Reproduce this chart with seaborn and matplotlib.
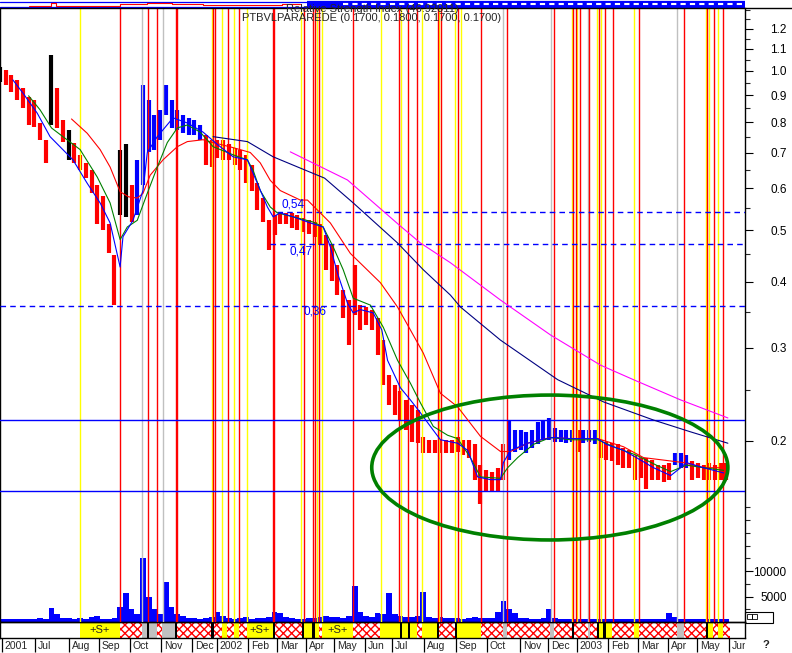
"""Recreate the PTBVLPARAREDE bar chart: price bars, moving averages, volume and signal strip."""

import matplotlib

matplotlib.use("Agg")
import matplotlib.pyplot as plt
import numpy as np
import pandas as pd
import seaborn as sns
from matplotlib.lines import Line2D
from matplotlib.patches import Ellipse, Rectangle
from matplotlib.ticker import NullFormatter

W, H = 792, 653
PX_PER_DAY = 1.43
X_END = 745 / PX_PER_DAY

# price bars, one every 4 trading days
bar_day = np.arange(0, 512, 4)
bar_high = [
    1.017, 1.004, 0.982, 0.961, 0.928, 0.893, 0.880, 0.797, 0.741, 1.071,
    0.928, 0.807, 0.773, 0.732, 0.694, 0.670, 0.649, 0.608, 0.581, 0.513,
    0.448, 0.710, 0.726, 0.608, 0.679, 0.940, 0.880, 0.825, 0.844, 0.940,
    0.880, 0.844, 0.825, 0.815, 0.807, 0.790, 0.757, 0.741, 0.741, 0.741,
    0.726, 0.716, 0.710, 0.694, 0.664, 0.613, 0.576, 0.522, 0.534, 0.541,
    0.539, 0.539, 0.534, 0.527, 0.522, 0.518, 0.513, 0.490, 0.469, 0.429,
    0.386, 0.369, 0.429, 0.361, 0.358, 0.354, 0.341, 0.310, 0.266, 0.255,
    0.249, 0.239, 0.234, 0.229, 0.203, 0.201, 0.201, 0.201, 0.201, 0.201,
    0.203, 0.201, 0.201, 0.197, 0.180, 0.176, 0.175, 0.178, 0.197, 0.219,
    0.210, 0.210, 0.208, 0.210, 0.217, 0.219, 0.221, 0.212, 0.210, 0.210,
    0.210, 0.210, 0.210, 0.210, 0.210, 0.201, 0.199, 0.198, 0.197, 0.194,
    0.192, 0.188, 0.186, 0.186, 0.184, 0.180, 0.180, 0.182, 0.190, 0.190,
    0.188, 0.183, 0.182, 0.180, 0.182, 0.180, 0.182, 0.182,
]
bar_low = [
    0.953, 0.940, 0.912, 0.880, 0.851, 0.790, 0.783, 0.741, 0.670, 0.790,
    0.780, 0.735, 0.679, 0.670, 0.649, 0.627, 0.587, 0.513, 0.500, 0.452,
    0.361, 0.534, 0.530, 0.518, 0.534, 0.608, 0.701, 0.710, 0.741, 0.825,
    0.780, 0.773, 0.764, 0.757, 0.757, 0.741, 0.664, 0.658, 0.685, 0.679,
    0.679, 0.664, 0.649, 0.613, 0.594, 0.546, 0.518, 0.459, 0.490, 0.513,
    0.513, 0.505, 0.500, 0.496, 0.492, 0.486, 0.469, 0.421, 0.401, 0.377,
    0.341, 0.303, 0.346, 0.324, 0.331, 0.324, 0.291, 0.255, 0.234, 0.224,
    0.219, 0.210, 0.199, 0.198, 0.190, 0.190, 0.190, 0.190, 0.190, 0.190,
    0.191, 0.188, 0.186, 0.169, 0.152, 0.160, 0.160, 0.161, 0.169, 0.184,
    0.191, 0.192, 0.190, 0.194, 0.197, 0.201, 0.201, 0.199, 0.199, 0.198,
    0.199, 0.191, 0.198, 0.199, 0.197, 0.186, 0.184, 0.183, 0.180, 0.178,
    0.178, 0.169, 0.170, 0.162, 0.169, 0.169, 0.167, 0.169, 0.180, 0.178,
    0.178, 0.169, 0.170, 0.169, 0.169, 0.169, 0.169, 0.169,
]
# runs of bar colours: k = neutral, r = falling, b = rising
bar_color_runs = [
    ("k", 1), ("r", 8), ("k", 1), ("r", 2), ("k", 1), ("r", 8), ("k", 2), ("r", 1),
    ("b", 12), ("r", 53), ("b", 12), ("r", 1), ("b", 3), ("r", 13), ("b", 3), ("r", 7),
]
volume = [
    600, 500, 600, 500, 500, 600, 500, 700, 600, 2800,
    1500, 800, 700, 600, 700, 600, 900, 1200, 600, 500,
    700, 3000, 5600, 2500, 1500, 12600, 5000, 2500, 1500, 7800,
    3000, 1500, 1200, 800, 700, 600, 800, 1000, 2000, 1200,
    700, 600, 800, 1000, 600, 700, 800, 1000, 2000, 1800,
    900, 700, 600, 600, 800, 700, 900, 1200, 1000, 900,
    800, 1200, 7000, 2000, 1200, 1000, 1800, 1500, 5600, 1500,
    1200, 1000, 900, 1200, 5800, 1000, 800, 1000, 700, 700,
    800, 600, 700, 1000, 800, 700, 800, 2000, 4200, 2500,
    1800, 800, 700, 600, 600, 700, 2600, 700, 600, 500,
    550, 500, 600, 500, 500, 550, 500, 500, 600, 500,
    500, 550, 500, 500, 600, 600, 600, 1800, 900, 500,
    500, 600, 500, 500, 550, 500, 500, 600,
]

# moving averages
ma_blue_day = [9, 16, 26, 35, 51, 61, 70, 77, 84, 86, 93, 100, 103, 110, 121, 131, 142, 152,
               163, 173, 180, 187, 191, 196, 205, 217, 226, 231, 236, 243, 247, 252, 261, 267,
               271, 280, 287, 294, 301, 308, 320, 327, 334, 343, 350, 352, 357, 369, 378, 387,
               399, 418, 424, 436, 445, 457, 469, 476, 480, 492, 506]
ma_blue_val = [0.961, 0.908, 0.832, 0.751, 0.679, 0.613, 0.563, 0.516, 0.426, 0.486, 0.522,
               0.594, 0.701, 0.751, 0.815, 0.797, 0.766, 0.726, 0.688, 0.679, 0.613, 0.553,
               0.530, 0.539, 0.530, 0.516, 0.507, 0.465, 0.415, 0.364, 0.349, 0.354, 0.349,
               0.324, 0.284, 0.252, 0.239, 0.226, 0.213, 0.201, 0.198, 0.192, 0.171, 0.169,
               0.169, 0.182, 0.192, 0.198, 0.201, 0.203, 0.202, 0.202, 0.197, 0.192, 0.186,
               0.178, 0.172, 0.178, 0.182, 0.178, 0.174]
ma_green_day = [20, 28, 36, 44, 56, 68, 77, 84, 89, 96, 103, 110, 117, 124, 131, 140, 149, 163,
                173, 177, 182, 189, 194, 205, 219, 226, 233, 240, 247, 259, 268, 278, 287, 294,
                303, 313, 320, 329, 336, 350, 355, 362, 373, 385, 399, 418, 431, 445, 459, 469,
                480, 492, 506]
ma_green_val = [0.897, 0.844, 0.780, 0.751, 0.710, 0.630, 0.563, 0.480, 0.507, 0.522, 0.587,
                0.658, 0.732, 0.780, 0.790, 0.766, 0.719, 0.694, 0.679, 0.649, 0.594, 0.553,
                0.539, 0.530, 0.518, 0.507, 0.465, 0.421, 0.372, 0.361, 0.328, 0.284, 0.257,
                0.236, 0.213, 0.205, 0.202, 0.186, 0.171, 0.170, 0.178, 0.186, 0.197, 0.203,
                0.201, 0.201, 0.194, 0.188, 0.180, 0.175, 0.180, 0.178, 0.176]
ma_red_day = [50, 61, 70, 77, 84, 90, 96, 100, 105, 114, 124, 131, 142, 149, 163, 175, 182, 189,
              196, 210, 215, 231, 245, 266, 278, 287, 296, 308, 320, 336, 350, 357, 369, 385,
              399, 418, 436, 450, 464, 478, 492, 506]
ma_red_val = [0.811, 0.762, 0.710, 0.658, 0.591, 0.578, 0.575, 0.587, 0.635, 0.679, 0.719,
              0.735, 0.741, 0.732, 0.716, 0.701, 0.670, 0.621, 0.594, 0.570, 0.570, 0.516,
              0.452, 0.398, 0.358, 0.324, 0.293, 0.246, 0.232, 0.204, 0.191, 0.191, 0.198,
              0.203, 0.202, 0.202, 0.195, 0.186, 0.184, 0.182, 0.178, 0.178]
ma_navy_day = [149, 173, 191, 210, 227, 247, 278, 296, 315, 322, 350, 390, 422, 457, 483, 509]
ma_navy_val = [0.751, 0.735, 0.688, 0.655, 0.627, 0.563, 0.473, 0.421, 0.377, 0.358, 0.310,
               0.261, 0.237, 0.219, 0.208, 0.198]
ma_mag_day = [203, 243, 280, 294, 315, 350, 385, 420, 443, 476, 509]
ma_mag_val = [0.703, 0.622, 0.509, 0.473, 0.434, 0.369, 0.317, 0.278, 0.261, 0.239, 0.221]

# signal lines (trading-day positions)
yellow_days = [55.9, 148.3, 155.2, 163.6, 172.7, 210.5, 221.7, 225.2, 266.4, 280.4, 295.1, 307.0,
               318.2, 322.4, 400.0, 403.5, 417.5, 420.3, 443.4, 493.7, 495.8, 502.1]
red_days = [83.9, 103.5, 109.8, 123.1, 123.8, 149.0, 150.3, 159.4, 167.1, 190.9, 191.6, 212.6,
            218.9, 220.3, 223.1, 246.9, 279.0, 285.3, 291.6, 306.3, 308.4, 320.3, 336.4, 354.5,
            387.4, 400.7, 402.8, 405.6, 411.9, 418.9, 423.1, 428.7, 446.9, 478.3, 494.4, 499.3,
            505.6]
gray_days = [99.3, 114.0, 351.7, 385.3, 411.2, 473.4]

level_dashed = [0.54, 0.47, 0.36]
level_dashed_start = [193.7, 188.8, 0.0]
level_labels = ["0,54", "0,47", "0,36"]
level_label_day = [197.2, 202.1, 211.9]
level_label_offset = [6, -5, -4]
level_solid = [0.219, 0.161]

# signal strip below the volume
strip_edges = [0, 55.9, 83.9, 99.3, 102.8, 104.2, 109.8, 113.3, 122.4, 123.8, 147.6, 149.7,
               155.2, 158.7, 163.6, 167.1, 172.7, 190.9, 192.3, 211.2, 212.6, 218.2, 220.3,
               223.1, 225.2, 246.9, 265.7, 279.7, 281.1, 285.3, 286.7, 291.6, 295.1, 305.6,
               307.0, 318.2, 319.6, 336.4, 351.7, 354.5, 384.6, 387.4, 400.0, 401.4, 411.2,
               412.6, 417.5, 418.9, 421.7, 423.8, 428.0, 443.4, 446.9, 473.4, 478.3, 493.7,
               495.1, 498.6, 502.1, 505.6, 510.5]
strip_kinds = ("w y h g k g h g k h k h y h y h y k h k y k y h y h y k y k "
               "y h y k h k y h g h g h k h g h k y k y h y h g h k y h y h").split()
strip_label_idx = [1, 16, 24]

# relative strength index strip at the top
rsi_day = [20, 28, 31, 36, 39, 79, 84, 103, 120, 142, 173, 197, 210]
rsi_val = [29, 21, 29, 59, 29, 21, 50, 59, 44, 37, 37, 44, 44]

month_days = [1.4, 24.5, 48.3, 69.2, 90.9, 112.6, 134.3, 151.7, 173.4, 193.7, 214.0, 233.6,
              255.2, 274.1, 296.5, 318.9, 340.6, 363.6, 383.2, 403.5, 425.2, 446.2, 467.1,
              487.4, 509.8]
month_labels = ["2001", "Jul", "Aug", "Sep", "Oct", "Nov", "Dec", "2002", "Feb", "Mar", "Apr",
                "May", "Jun", "Jul", "Aug", "Sep", "Oct", "Nov", "Dec", "2003", "Feb", "Mar",
                "Apr", "May", "Jun"]

price_ticks = [0.2, 0.3, 0.4, 0.5, 0.6, 0.7, 0.8, 0.9, 1.0, 1.1, 1.2]
price_minor = [0.15, 0.25, 0.35, 0.45, 0.55, 0.65, 0.75, 0.85, 0.95, 1.05, 1.15, 1.25, 1.3]
volume_ticks = [5000, 10000]
volume_minor = [2500, 7500, 12500, 15000, 17500, 20000]

BAR_COLORS = {"k": "#000000", "r": "#ff0000", "b": "#0000ff"}
MA_COLORS = {"short": "#0000ff", "medium": "#008000", "long": "#ff0000",
             "longer": "#000080", "longest": "#ff00ff"}

sns.set_style("white")
plt.rcParams["font.family"] = ["Liberation Sans", "DejaVu Sans"]
plt.rcParams["hatch.linewidth"] = 1.0

fig = plt.figure(figsize=(W / 100, H / 100), dpi=100, facecolor="white")


def px_axes(x0, y0, x1, y1):
    return fig.add_axes([x0 / W, 1 - y1 / H, (x1 - x0) / W, (y1 - y0) / H])


# main price panel with volume behind it
ax = px_axes(0, 8, 745, 622)
ax_vol = ax.twinx()
ax.set_zorder(ax_vol.get_zorder() + 1)
ax.patch.set_visible(False)

ax_vol.bar(bar_day, volume, width=4.0, color="#0000ff", linewidth=0)
ax_vol.set_ylim(0, 120400)
ax_vol.set_yticks(volume_ticks, [str(v) for v in volume_ticks])
ax_vol.set_yticks(volume_minor, minor=True)
ax_vol.yaxis.set_minor_formatter(NullFormatter())
ax_vol.tick_params(axis="y", which="major", length=6, width=0.8, pad=24, labelsize=8.5,
                   colors="black")
ax_vol.tick_params(axis="y", which="minor", length=3.5, width=0.8)
plt.setp(ax_vol.get_yticklabels(), ha="right")
for spine in ax_vol.spines.values():
    spine.set_visible(False)

ax.set_yscale("log")
ax.set_xlim(0, X_END)
ax.set_ylim(0.091, 1.314)

for days, colour in ((gray_days, "#c0c0c0"), (yellow_days, "#ffff00"), (red_days, "#ff0000")):
    for d in days:
        ax.axvline(d, color=colour, linewidth=1.0, zorder=3)

bar_colors = [BAR_COLORS[c] for c, n in bar_color_runs for _ in range(n)]
ax.vlines(bar_day, bar_low, bar_high, colors=bar_colors, linewidth=3.0, zorder=2)

ma_frame = pd.concat([
    pd.DataFrame({"day": d, "price": v, "ma": name})
    for name, d, v in (
        ("longest", ma_mag_day, ma_mag_val),
        ("longer", ma_navy_day, ma_navy_val),
        ("long", ma_red_day, ma_red_val),
        ("medium", ma_green_day, ma_green_val),
        ("short", ma_blue_day, ma_blue_val),
    )
], ignore_index=True)
sns.lineplot(data=ma_frame, x="day", y="price", hue="ma", palette=MA_COLORS, estimator=None,
             linewidth=0.8, legend=False, ax=ax, zorder=4)

for level, start in zip(level_dashed, level_dashed_start):
    ax.hlines(level, start, X_END, colors="#0000ff", linestyles=(0, (4, 3)), linewidth=1.0,
              zorder=3.5)
for level, day, offset, label in zip(level_dashed, level_label_day, level_label_offset,
                                     level_labels):
    ax.annotate(label, (day, level), xytext=(0, offset), textcoords="offset points",
                fontsize=8.5, color="#0000ff", zorder=6, ha="left", va="center")
for level in level_solid:
    ax.axhline(level, color="#0000ff", linewidth=1.0, zorder=3.5)

ax.add_patch(Ellipse((0.738, 0.2516), 0.478, 0.236, transform=ax.transAxes, fill=False,
                     edgecolor="#008000", linewidth=2.6, zorder=5))

ax.set_xlabel("")
ax.set_ylabel("")
ax.set_xticks([])
ax.yaxis.tick_right()
ax.set_yticks(price_ticks, [f"{v:.1f}" for v in price_ticks])
ax.set_yticks(price_minor, minor=True)
ax.yaxis.set_minor_formatter(NullFormatter())
ax.tick_params(axis="y", which="major", length=6, width=0.8, pad=24, labelsize=8.5,
               colors="black")
ax.tick_params(axis="y", which="minor", length=3.5, width=0.8)
plt.setp(ax.get_yticklabels(), ha="right")
for name, spine in ax.spines.items():
    spine.set_visible(name != "top")
    spine.set_color("black")
    spine.set_linewidth(1.0)

# relative strength strip
ax_rsi = px_axes(0, 0, 745, 8)
ax_rsi.set_xlim(0, X_END)
ax_rsi.set_ylim(0, 100)
ax_rsi.axis("off")
ax_rsi.axhline(80, color="#0000ff", linewidth=0.9)
ax_rsi.axhline(15, color="#0000ff", linewidth=0.9)
ax_rsi.plot(rsi_day, rsi_val, color="#ff0000", linewidth=0.8, drawstyle="steps-post")
ax_rsi.plot([215, X_END], [50, 50], color="#0000ff", linewidth=4.5, solid_capstyle="butt")
ax_rsi.plot([240, X_END], [50, 50], color="white", linewidth=1.5, dashes=(2.5, 2))

# signal strip
ax_sig = px_axes(0, 622, 745, 638)
ax_sig.set_xlim(0, X_END)
ax_sig.set_ylim(0, 1)
ax_sig.set_xticks([])
ax_sig.set_yticks([])
for a, b, kind in zip(strip_edges[:-1], strip_edges[1:], strip_kinds):
    if kind == "y":
        ax_sig.axvspan(a, b, color="#ffff00", linewidth=0)
    elif kind == "g":
        ax_sig.axvspan(a, b, color="#c0c0c0", linewidth=0)
    elif kind == "k":
        ax_sig.axvspan(a, b, color="#000000", linewidth=0)
    elif kind == "h":
        ax_sig.axvspan(a, b, facecolor="white", edgecolor="#ff0000", hatch="xxxx", linewidth=0)
for i in strip_label_idx:
    ax_sig.text((strip_edges[i] + strip_edges[i + 1]) / 2, 0.5, "+S+", ha="center",
                va="center", fontsize=8)
for spine in ax_sig.spines.values():
    spine.set_color("black")
    spine.set_linewidth(1.0)

# month axis
ax_date = px_axes(0, 638, 745, 653)
ax_date.set_xlim(0, X_END)
ax_date.set_ylim(0, 1)
ax_date.axis("off")
ax_date.vlines(month_days, 0.1, 1, colors="black", linewidth=0.9)
for d, label in zip(month_days, month_labels):
    ax_date.text(d + 2.0, 0.45, label, ha="left", va="center", fontsize=7.5, clip_on=True)

fig.add_artist(Line2D([0, 1], [1 - 8.3 / H] * 2, transform=fig.transFigure, color="black",
                      linewidth=1.0))
fig.text(372 / W, 1 - 9.5 / H, "Relative Strength Index (46.92011)", ha="center", va="center",
         fontsize=8)
fig.text(372 / W, 1 - 18 / H, "PTBVLPARAREDE (0.1700, 0.1800, 0.1700, 0.1700)", ha="center",
         va="center", fontsize=8)
fig.add_artist(Rectangle((745 / W, 1 - 623 / H), 28 / W, 11 / H, transform=fig.transFigure,
                         fill=False, edgecolor="black", linewidth=0.8))
for x0 in (747, 752):
    fig.add_artist(Rectangle((x0 / W, 1 - 619 / H), 5 / W, 5 / H, transform=fig.transFigure,
                             fill=False, edgecolor="black", linewidth=0.6))
fig.text(766 / W, 1 - 645 / H, "?", ha="center", va="center", fontsize=8, fontweight="bold")

fig.savefig("out.png", dpi=100, facecolor="white")
